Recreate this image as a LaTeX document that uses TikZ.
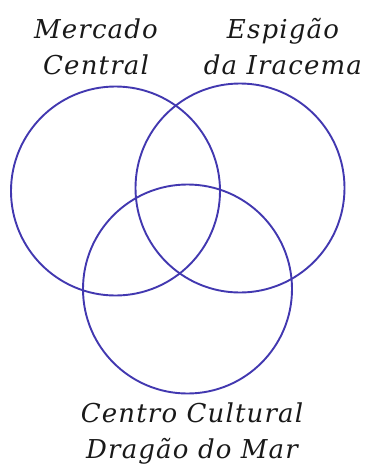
\documentclass[tikz,border=0pt]{standalone}
\usepackage{fontspec}
\newfontfamily\lblfont[LetterSpace=4.5]{DejaVu Serif}
\usetikzlibrary{positioning}

\begin{document}
\begin{tikzpicture}[x=1pt, y=-1pt,
                lbl/.style={align=center, inner sep=0pt, text=black!90, font=\lblfont\itshape\fontsize{26}{36}\selectfont},
                set/.style={draw={rgb,255:red,66;green,56;blue,176}, line width=1.9pt, circle, minimum size=209pt, inner sep=0pt},
            ]
            \useasboundingbox (0,0) rectangle (369,464);
            \node[set] (mercado) at (115.5,191) {};
            \node[set] (espigao) at (240,188) {};
            \node[set] (dragao) at (187.5,289) {};
            \node[lbl] (lmercado) at (96,47) {Mercado\\Central};
            \node[lbl] (lespigao) at (283,47) {Espigão\\da Iracema};
            \node[lbl] (ldragao) at (192,434) {Centro Cultural\\Dragão do Mar};
        \end{tikzpicture}
\end{document}
